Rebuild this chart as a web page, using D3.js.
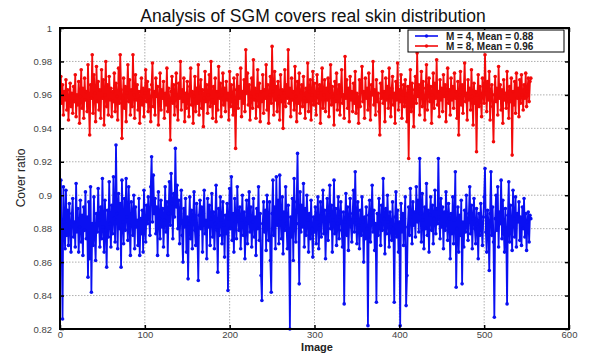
<!DOCTYPE html>
<html>
<head>
<meta charset="utf-8">
<script src="https://cdn.jsdelivr.net/npm/d3@7"></script>
<style>
  html, body { margin: 0; padding: 0; background: #fff; overflow: hidden; }
  svg { display: block; font-family: Arial, "Liberation Sans", sans-serif; }
</style>
<script>
// 轴刻度
const xTicks = [0, 100, 200, 300, 400, 500, 600];
const yTicks = [0.82, 0.84, 0.86, 0.88, 0.9, 0.92, 0.94, 0.96, 0.98, 1];

// M = 4 series (blue), image 1..555
const seriesM4 = [
  0.909, 0.872, 0.826, 0.905, 0.884, 0.868, 0.903, 0.876, 0.891, 0.870, 0.895, 0.881, 0.866, 0.889, 0.898,
  0.875, 0.884, 0.869, 0.907, 0.878, 0.892, 0.866, 0.881, 0.897, 0.872, 0.888, 0.864, 0.893, 0.879, 0.902,
  0.874, 0.887, 0.851, 0.896, 0.862, 0.905, 0.842, 0.883, 0.870, 0.899, 0.876, 0.861, 0.889, 0.878, 0.904,
  0.885, 0.869, 0.893, 0.874, 0.910, 0.881, 0.866, 0.897, 0.879, 0.857, 0.891, 0.875, 0.908, 0.883, 0.869,
  0.894, 0.877, 0.911, 0.886, 0.872, 0.930, 0.889, 0.868, 0.901, 0.880, 0.895, 0.857, 0.909, 0.884, 0.871,
  0.898, 0.879, 0.910, 0.887, 0.873, 0.905, 0.882, 0.864, 0.896, 0.889, 0.876, 0.900, 0.868, 0.893, 0.881,
  0.885, 0.870, 0.898, 0.864, 0.886, 0.877, 0.891, 0.866, 0.903, 0.880, 0.872, 0.894, 0.883, 0.899, 0.887,
  0.876, 0.905, 0.923, 0.884, 0.912, 0.889, 0.898, 0.877, 0.893, 0.864, 0.902, 0.886, 0.874, 0.897, 0.881,
  0.892, 0.869, 0.885, 0.905, 0.878, 0.896, 0.864, 0.889, 0.908, 0.882, 0.913, 0.895, 0.874, 0.901, 0.887,
  0.928, 0.893, 0.906, 0.880, 0.897, 0.871, 0.889, 0.903, 0.876, 0.860, 0.892, 0.881, 0.898, 0.866, 0.887,
  0.850, 0.883, 0.899, 0.874, 0.891, 0.868, 0.886, 0.902, 0.879, 0.870, 0.895, 0.876, 0.849, 0.888, 0.897,
  0.880, 0.893, 0.866, 0.889, 0.903, 0.877, 0.885, 0.862, 0.898, 0.881, 0.894, 0.870, 0.886, 0.901, 0.875,
  0.890, 0.868, 0.883, 0.906, 0.879, 0.854, 0.892, 0.876, 0.899, 0.885, 0.871, 0.896, 0.882, 0.863, 0.888,
  0.877, 0.895, 0.843, 0.886, 0.904, 0.880, 0.911, 0.873, 0.889, 0.866, 0.898, 0.884, 0.874, 0.905, 0.887,
  0.879, 0.893, 0.868, 0.885, 0.900, 0.876, 0.890, 0.862, 0.883, 0.897, 0.871, 0.888, 0.902, 0.878, 0.893,
  0.869, 0.884, 0.898, 0.875, 0.887, 0.864, 0.892, 0.880, 0.905, 0.873, 0.889, 0.852, 0.837, 0.883, 0.896,
  0.878, 0.891, 0.867, 0.900, 0.884, 0.873, 0.896, 0.861, 0.842, 0.889, 0.909, 0.876, 0.893, 0.868, 0.911,
  0.882, 0.897, 0.871, 0.912, 0.886, 0.874, 0.899, 0.865, 0.890, 0.879, 0.905, 0.883, 0.868, 0.894, 0.877,
  0.820, 0.887, 0.875, 0.898, 0.861, 0.910, 0.884, 0.872, 0.896, 0.925, 0.883, 0.847, 0.902, 0.878, 0.894,
  0.881, 0.907, 0.869, 0.892, 0.876, 0.900, 0.885, 0.866, 0.889, 0.874, 0.897, 0.880, 0.863, 0.887, 0.878,
  0.893, 0.871, 0.886, 0.899, 0.868, 0.882, 0.896, 0.875, 0.889, 0.903, 0.877, 0.891, 0.862, 0.884, 0.898,
  0.873, 0.888, 0.906, 0.880, 0.894, 0.866, 0.885, 0.909, 0.877, 0.892, 0.870, 0.883, 0.899, 0.874, 0.887,
  0.896, 0.879, 0.869, 0.890, 0.835, 0.884, 0.901, 0.876, 0.893, 0.867, 0.886, 0.898, 0.881, 0.872, 0.889,
  0.903, 0.878, 0.914, 0.885, 0.871, 0.896, 0.882, 0.868, 0.891, 0.876, 0.899, 0.884, 0.860, 0.887, 0.874,
  0.893, 0.880, 0.822, 0.888, 0.897, 0.872, 0.885, 0.906, 0.878, 0.891, 0.867, 0.883, 0.836, 0.889, 0.876,
  0.898, 0.883, 0.870, 0.894, 0.879, 0.910, 0.886, 0.865, 0.892, 0.877, 0.900, 0.884, 0.869, 0.890, 0.881,
  0.873, 0.896, 0.880, 0.836, 0.887, 0.902, 0.875, 0.891, 0.866, 0.884, 0.822, 0.895, 0.878, 0.889, 0.870,
  0.886, 0.899, 0.834, 0.852, 0.881, 0.893, 0.876, 0.904, 0.887, 0.871, 0.896, 0.882, 0.890, 0.875, 0.905,
  0.884, 0.897, 0.878, 0.922, 0.889, 0.872, 0.901, 0.885, 0.868, 0.893, 0.880, 0.907, 0.876, 0.891, 0.866,
  0.888, 0.899, 0.879, 0.894, 0.871, 0.886, 0.903, 0.877, 0.892, 0.883, 0.922, 0.887, 0.874, 0.898, 0.881,
  0.893, 0.868, 0.890, 0.879, 0.902, 0.884, 0.873, 0.895, 0.886, 0.862, 0.889, 0.877, 0.899, 0.871, 0.885,
  0.914, 0.845, 0.880, 0.893, 0.866, 0.888, 0.876, 0.897, 0.847, 0.884, 0.869, 0.891, 0.878, 0.900, 0.882,
  0.873, 0.889, 0.905, 0.877, 0.894, 0.868, 0.886, 0.898, 0.880, 0.871, 0.892, 0.883, 0.862, 0.889, 0.876,
  0.895, 0.881, 0.870, 0.887, 0.899, 0.916, 0.878, 0.866, 0.891, 0.884, 0.855, 0.889, 0.914, 0.876, 0.893,
  0.872, 0.827, 0.886, 0.900, 0.879, 0.905, 0.869, 0.890, 0.883, 0.909, 0.874, 0.897, 0.880, 0.866, 0.892,
  0.878, 0.835, 0.888, 0.908, 0.872, 0.894, 0.881, 0.867, 0.903, 0.886, 0.875, 0.899, 0.869, 0.889, 0.884,
  0.896, 0.873, 0.887, 0.870, 0.893, 0.880, 0.898, 0.875, 0.889, 0.867, 0.884, 0.890, 0.872, 0.888, 0.886
];

// M = 8 series (red), image 1..555
const seriesM8 = [
  0.971, 0.955, 0.966, 0.948, 0.962, 0.957, 0.969, 0.951, 0.963, 0.945, 0.958, 0.967, 0.953, 0.961, 0.949,
  0.965, 0.956, 0.972, 0.947, 0.960, 0.954, 0.968, 0.943, 0.959, 0.975, 0.952, 0.964, 0.946, 0.970, 0.957,
  0.962, 0.950, 0.978, 0.955, 0.936, 0.966, 0.958, 0.984, 0.949, 0.972, 0.961, 0.944, 0.977, 0.956, 0.968,
  0.951, 0.963, 0.946, 0.975, 0.958, 0.969, 0.942, 0.960, 0.980, 0.953, 0.966, 0.948, 0.971, 0.957, 0.964,
  0.947, 0.962, 0.956, 0.973, 0.950, 0.967, 0.959, 0.945, 0.976, 0.955, 0.984, 0.963, 0.934, 0.958, 0.970,
  0.952, 0.965, 0.944, 0.961, 0.978, 0.956, 0.969, 0.948, 0.963, 0.953, 0.984, 0.960, 0.946, 0.972, 0.957,
  0.966, 0.951, 0.962, 0.943, 0.958, 0.970, 0.954, 0.964, 0.947, 0.961, 0.975, 0.956, 0.968, 0.950, 0.963,
  0.957, 0.944, 0.966, 0.979, 0.953, 0.962, 0.948, 0.970, 0.959, 0.965, 0.942, 0.956, 0.973, 0.951, 0.963,
  0.958, 0.968, 0.946, 0.961, 0.954, 0.976, 0.950, 0.964, 0.957, 0.933, 0.962, 0.971, 0.955, 0.966, 0.948,
  0.960, 0.973, 0.953, 0.945, 0.967, 0.958, 0.980, 0.951, 0.963, 0.956, 0.970, 0.944, 0.961, 0.952, 0.968,
  0.957, 0.947, 0.965, 0.976, 0.954, 0.962, 0.943, 0.959, 0.971, 0.950, 0.964, 0.955, 0.978, 0.948, 0.961,
  0.969, 0.952, 0.963, 0.941, 0.958, 0.974, 0.956, 0.966, 0.949, 0.960, 0.972, 0.953, 0.980, 0.957, 0.946,
  0.965, 0.955, 0.970, 0.944, 0.962, 0.951, 0.977, 0.958, 0.967, 0.947, 0.960, 0.973, 0.954, 0.964, 0.950,
  0.968, 0.957, 0.961, 0.945, 0.974, 0.953, 0.966, 0.959, 0.948, 0.970, 0.956, 0.928, 0.963, 0.972, 0.952,
  0.965, 0.958, 0.976, 0.947, 0.962, 0.955, 0.969, 0.950, 0.987, 0.961, 0.973, 0.954, 0.966, 0.945, 0.959,
  0.970, 0.952, 0.981, 0.957, 0.964, 0.946, 0.960, 0.975, 0.953, 0.967, 0.944, 0.962, 0.956, 0.972, 0.949,
  0.963, 0.958, 0.978, 0.951, 0.966, 0.943, 0.960, 0.971, 0.955, 0.989, 0.962, 0.948, 0.974, 0.957, 0.965,
  0.950, 0.968, 0.959, 0.945, 0.972, 0.956, 0.963, 0.940, 0.961, 0.975, 0.953, 0.966, 0.958, 0.987, 0.955,
  0.964, 0.947, 0.970, 0.957, 0.962, 0.951, 0.977, 0.959, 0.944, 0.968, 0.955, 0.973, 0.949, 0.961, 0.966,
  0.953, 0.971, 0.958, 0.946, 0.964, 0.956, 0.979, 0.950, 0.962, 0.969, 0.945, 0.960, 0.974, 0.954, 0.967,
  0.958, 0.948, 0.972, 0.961, 0.955, 0.966, 0.943, 0.963, 0.976, 0.952, 0.960, 0.969, 0.950, 0.964, 0.957,
  0.970, 0.947, 0.962, 0.978, 0.954, 0.965, 0.959, 0.942, 0.968, 0.956, 0.973, 0.951, 0.961, 0.966, 0.948,
  0.963, 0.975, 0.955, 0.960, 0.946, 0.983, 0.958, 0.969, 0.952, 0.964, 0.944, 0.971, 0.957, 0.962, 0.950,
  0.967, 0.955, 0.974, 0.949, 0.961, 0.958, 0.943, 0.969, 0.953, 0.965, 0.977, 0.956, 0.962, 0.946, 0.970,
  0.958, 0.964, 0.951, 0.973, 0.957, 0.945, 0.966, 0.960, 0.980, 0.954, 0.963, 0.948, 0.969, 0.956, 0.961,
  0.950, 0.936, 0.967, 0.958, 0.974, 0.955, 0.962, 0.944, 0.970, 0.957, 0.965, 0.952, 0.976, 0.959, 0.947,
  0.964, 0.971, 0.954, 0.961, 0.943, 0.968, 0.957, 0.979, 0.951, 0.963, 0.956, 0.972, 0.946, 0.960, 0.966,
  0.953, 0.969, 0.958, 0.944, 0.965, 0.922, 0.961, 0.975, 0.950, 0.967, 0.957, 0.941, 0.963, 0.971, 0.955,
  0.985, 0.959, 0.966, 0.948, 0.962, 0.974, 0.953, 0.968, 0.957, 0.945, 0.964, 0.978, 0.951, 0.961, 0.970,
  0.956, 0.965, 0.943, 0.960, 0.973, 0.952, 0.967, 0.958, 0.981, 0.954, 0.962, 0.947, 0.969, 0.957, 0.964,
  0.950, 0.972, 0.959, 0.966, 0.944, 0.961, 0.976, 0.955, 0.963, 0.948, 0.970, 0.957, 0.965, 0.952, 0.973,
  0.958, 0.962, 0.946, 0.968, 0.936, 0.960, 0.974, 0.954, 0.966, 0.949, 0.963, 0.979, 0.956, 0.961, 0.945,
  0.969, 0.957, 0.964, 0.951, 0.975, 0.959, 0.942, 0.967, 0.955, 0.962, 0.926, 0.960, 0.972, 0.953, 0.965,
  0.958, 0.947, 0.970, 0.961, 0.955, 0.984, 0.963, 0.950, 0.968, 0.957, 0.974, 0.945, 0.962, 0.966, 0.953,
  0.932, 0.960, 0.971, 0.956, 0.964, 0.948, 0.977, 0.958, 0.966, 0.951, 0.963, 0.943, 0.969, 0.957, 0.961,
  0.952, 0.974, 0.959, 0.946, 0.965, 0.956, 0.970, 0.924, 0.962, 0.954, 0.968, 0.949, 0.973, 0.958, 0.964,
  0.947, 0.969, 0.955, 0.972, 0.960, 0.951, 0.966, 0.958, 0.973, 0.953, 0.962, 0.970, 0.956, 0.968, 0.970
];

const legendLabels = ['M = 4, Mean = 0.88', 'M = 8, Mean = 0.96'];
const seriesColors = ['#0a10f2', '#f20a0a'];

function drawChart() {
  const width = 590, height = 353;
  const margin = { top: 28, right: 21, bottom: 24, left: 60 };
  const innerWidth = width - margin.left - margin.right;
  const innerHeight = height - margin.top - margin.bottom;

  const svg = d3.select('#chart').append('svg')
    .attr('width', width)
    .attr('height', height);

  const g = svg.append('g')
    .attr('transform', `translate(${margin.left},${margin.top})`);

  const x = d3.scaleLinear().domain([0, 600]).range([0, innerWidth]);
  const y = d3.scaleLinear().domain([0.82, 1]).range([innerHeight, 0]);

  // 网格线
  g.append('g').selectAll('line')
    .data(xTicks.slice(1, -1))
    .join('line')
    .attr('x1', d => x(d)).attr('x2', d => x(d))
    .attr('y1', 0).attr('y2', innerHeight)
    .attr('stroke', '#9a9a9a').attr('stroke-width', 0.8)
    .attr('stroke-dasharray', '1.5,1.5');

  g.append('g').selectAll('line')
    .data(yTicks.slice(1, -1))
    .join('line')
    .attr('x1', 0).attr('x2', innerWidth)
    .attr('y1', d => y(d)).attr('y2', d => y(d))
    .attr('stroke', '#9a9a9a').attr('stroke-width', 0.8)
    .attr('stroke-dasharray', '1.5,1.5');

  // 数据线
  const line = d3.line()
    .x((d, i) => x(i + 1))
    .y(d => y(d));

  [seriesM4, seriesM8].forEach((s, k) => {
    g.append('path')
      .datum(s)
      .attr('fill', 'none')
      .attr('stroke', seriesColors[k])
      .attr('stroke-width', 1.8)
      .attr('stroke-linejoin', 'round')
      .attr('d', line);

    g.append('g').selectAll('circle')
      .data(s)
      .join('circle')
      .attr('cx', (d, i) => x(i + 1))
      .attr('cy', d => y(d))
      .attr('r', 1.8)
      .attr('fill', seriesColors[k]);
  });

  // 坐标轴 (刻度朝内)
  const fmtY = d => d === 1 ? '1' : d3.format('.2~f')(d);

  const xAxis = g.append('g')
    .attr('transform', `translate(0,${innerHeight})`)
    .call(d3.axisBottom(x).tickValues(xTicks).tickSize(-4).tickPadding(2).tickFormat(d3.format('d')));
  const xTop = g.append('g')
    .call(d3.axisTop(x).tickValues(xTicks).tickSize(-4));
  const yAxis = g.append('g')
    .call(d3.axisLeft(y).tickValues(yTicks).tickSize(-4).tickPadding(8).tickFormat(fmtY));
  const yRight = g.append('g')
    .attr('transform', `translate(${innerWidth},0)`)
    .call(d3.axisRight(y).tickValues(yTicks).tickSize(-4));

  // 上、右两侧只保留刻度线
  xTop.selectAll('text').remove();
  yRight.selectAll('text').remove();

  [xAxis, xTop, yAxis, yRight].forEach(a => {
    a.select('.domain').remove();
    a.selectAll('line').attr('stroke', '#000').attr('stroke-width', 1.5);
    a.selectAll('text')
      .style('font-size', '9.5px')
      .style('fill', '#444')
      .style('font-family', 'Arial, "Liberation Sans", sans-serif');
  });

  // 外框
  g.append('rect')
    .attr('width', innerWidth)
    .attr('height', innerHeight)
    .attr('fill', 'none')
    .attr('stroke', '#000')
    .attr('stroke-width', 2);

  // 图例
  const legend = svg.append('g').attr('transform', 'translate(408,30)');
  legend.append('rect')
    .attr('width', 156).attr('height', 22)
    .attr('fill', '#fff').attr('stroke', '#000').attr('stroke-width', 1);

  legendLabels.forEach((label, k) => {
    const ly = 6 + k * 10;
    legend.append('line')
      .attr('x1', 7).attr('x2', 30).attr('y1', ly).attr('y2', ly)
      .attr('stroke', seriesColors[k]).attr('stroke-width', 1.6);
    legend.append('circle')
      .attr('cx', 18.5).attr('cy', ly).attr('r', 1.7)
      .attr('fill', seriesColors[k]);
    legend.append('text')
      .attr('x', 38).attr('y', ly + 3.5)
      .style('font-size', '10px')
      .style('font-weight', 'bold')
      .style('fill', '#222')
      .text(label);
  });

  // 标题
  svg.append('text')
    .attr('x', 313)
    .attr('y', 22)
    .attr('text-anchor', 'middle')
    .style('font-size', '17.5px')
    .style('fill', '#111')
    .text('Analysis of SGM covers real skin distribution');

  // 轴标题
  svg.append('text')
    .attr('x', 317)
    .attr('y', 350.5)
    .attr('text-anchor', 'middle')
    .style('font-size', '11px')
    .style('font-weight', 'bold')
    .style('fill', '#222')
    .text('Image');

  svg.append('text')
    .attr('transform', 'rotate(-90)')
    .attr('x', -178)
    .attr('y', 25)
    .attr('text-anchor', 'middle')
    .style('font-size', '12px')
    .style('fill', '#222')
    .text('Cover ratio');
}

document.addEventListener('DOMContentLoaded', drawChart);
</script>
</head>
<body>
<div id="chart"></div>
</body>
</html>
